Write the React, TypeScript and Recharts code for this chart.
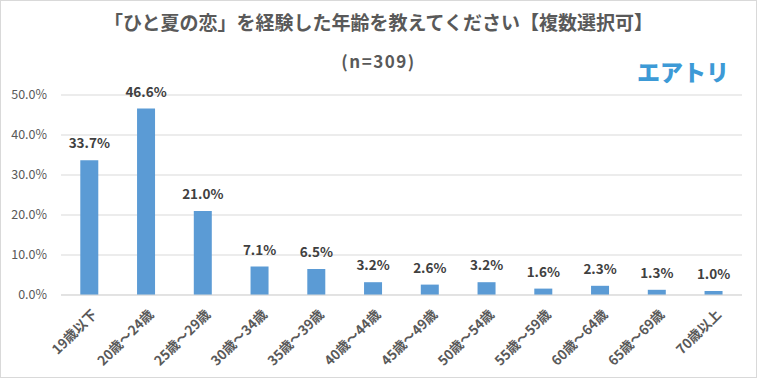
import React from "react";
import { BarChart, Bar, XAxis, YAxis, CartesianGrid, LabelList } from "recharts";

const categories = [
  "19歳以下", "20歳～24歳", "25歳～29歳", "30歳～34歳", "35歳～39歳", "40歳～44歳",
  "45歳～49歳", "50歳～54歳", "55歳～59歳", "60歳～64歳", "65歳～69歳", "70歳以上",
];
const values = [33.7, 46.6, 21.0, 7.1, 6.5, 3.2, 2.6, 3.2, 1.6, 2.3, 1.3, 1.0];
const yTicks = [0, 10, 20, 30, 40, 50];

const data = categories.map((name, i) => ({ name, value: values[i] }));

const FONT = "'Noto Sans CJK JP', 'Noto Sans', sans-serif";
const GRAY = "#595959";

const AngledTick = ({ x, y, payload }: any) => (
  <g transform={`translate(${x + 2},${y + 6})`}>
    <text
      transform="rotate(-45)"
      textAnchor="end"
      dy={9}
      fontSize={13.5}
      fontWeight="bold"
      fill={GRAY}
      fontFamily={FONT}
    >
      {payload.value}
    </text>
  </g>
);

export default function App() {
  return (
    <div
      style={{
        position: "absolute",
        left: 0,
        top: 0,
        width: 757,
        height: 378,
        background: "#fff",
        boxSizing: "border-box",
        border: "1px solid #d9d9d9",
        fontFamily: FONT,
      }}
    >
      <div
        style={{
          position: "absolute",
          top: 7,
          left: 0,
          width: "100%",
          textAlign: "center",
          fontSize: 19,
          fontWeight: "bold",
          color: GRAY,
        }}
      >
        「ひと夏の恋」を経験した年齢を教えてください【複数選択可】
      </div>
      <div
        style={{
          position: "absolute",
          top: 47,
          left: 0,
          width: "100%",
          textAlign: "center",
          fontSize: 17,
          fontWeight: "bold",
          letterSpacing: 1.5,
          color: GRAY,
        }}
      >
        (n=309)
      </div>
      <div
        style={{
          position: "absolute",
          top: 53,
          left: 636,
          fontSize: 23,
          fontWeight: 900,
          color: "#3d9ad6",
          letterSpacing: 0,
        }}
      >
        エアトリ
      </div>
      <BarChart
        width={755}
        height={376}
        data={data}
        margin={{ top: 94, right: 14, bottom: 5, left: 0 }}
        barCategoryGap="34%"
      >
        <CartesianGrid vertical={false} stroke="#d9d9d9" />
        <YAxis
          domain={[0, 50]}
          ticks={yTicks}
          width={60}
          axisLine={false}
          tickLine={false}
          tickSize={0}
          tickMargin={14}
          tickFormatter={(v: number) => `${v.toFixed(1)}%`}
          tick={{ fontSize: 12.5, fill: GRAY, fontFamily: FONT }}
        />
        <XAxis
          dataKey="name"
          interval={0}
          height={77}
          axisLine={{ stroke: "#d9d9d9" }}
          tickLine={false}
          tick={<AngledTick />}
        />
        <Bar dataKey="value" fill="#5b9bd5" isAnimationActive={false}>
          <LabelList
            dataKey="value"
            position="top"
            offset={12}
            formatter={(v: number) => `${v.toFixed(1)}%`}
            style={{ fontSize: 13.5, fontWeight: "bold", fill: "#404040", fontFamily: FONT }}
          />
        </Bar>
      </BarChart>
    </div>
  );
}
